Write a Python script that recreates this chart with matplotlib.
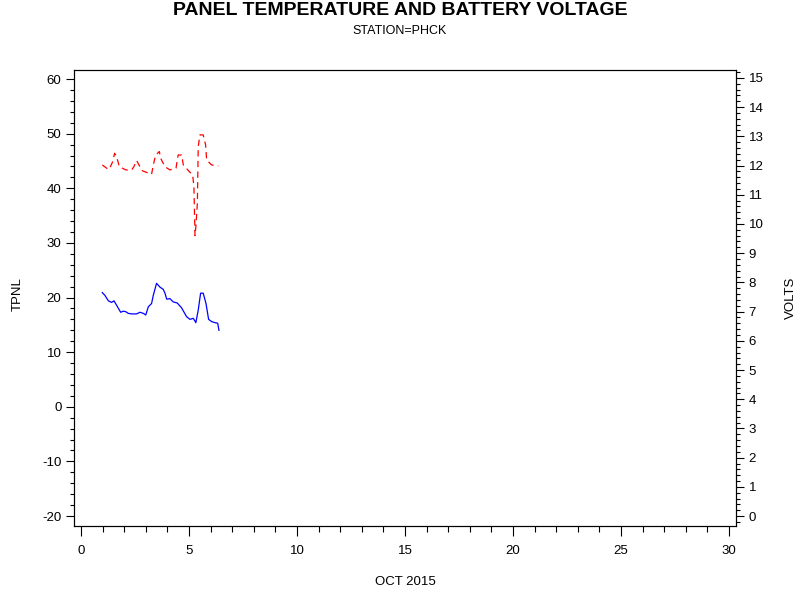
import matplotlib
matplotlib.use("Agg")
import matplotlib.pyplot as plt
from matplotlib.ticker import MultipleLocator

plt.rcParams['font.family'] = ['Liberation Sans', 'DejaVu Sans']
plt.rcParams['axes.unicode_minus'] = False

# panel temperature (left axis)
temp_day = [0.99, 1.11, 1.27, 1.42, 1.53, 1.65, 1.84, 1.96, 2.08, 2.19, 2.35, 2.58,
            2.73, 2.89, 3.0, 3.12, 3.27, 3.35, 3.5, 3.66, 3.81, 3.89, 3.97, 4.12,
            4.27, 4.46, 4.66, 4.89, 5.05, 5.2, 5.32, 5.43, 5.54, 5.66, 5.79, 5.91,
            6.05, 6.2, 6.33, 6.39]
tpnl = [20.9, 20.4, 19.4, 19.1, 19.4, 18.6, 17.3, 17.5, 17.4, 17.1, 17.0, 17.0,
        17.3, 17.1, 16.8, 18.3, 18.9, 20.4, 22.6, 21.9, 21.5, 20.8, 19.7, 19.8,
        19.2, 19.0, 18.1, 16.5, 16.0, 16.2, 15.4, 17.7, 20.8, 20.8, 18.9, 16.0,
        15.6, 15.4, 15.3, 14.0]

# battery voltage (right axis)
volt_day = [0.99, 1.19, 1.31, 1.47, 1.56, 1.65, 1.78, 2.08, 2.35, 2.45, 2.58, 2.73,
            2.85, 3.27, 3.35, 3.46, 3.63, 3.69, 3.89, 4.12, 4.4, 4.5, 4.66, 4.74,
            5.02, 5.17, 5.23, 5.28, 5.32, 5.39, 5.43, 5.51, 5.66, 5.77, 5.82, 6.05,
            6.36]
volts = [12.02, 11.91, 11.87, 12.13, 12.42, 12.31, 11.96, 11.85, 11.85, 11.96, 12.17, 11.96,
         11.82, 11.70, 12.02, 12.36, 12.48, 12.25, 11.96, 11.85, 11.91, 12.36, 12.36, 12.02,
         11.79, 11.68, 11.28, 9.6, 9.91, 10.71, 12.65, 13.05, 13.05, 12.71, 12.19, 12.02,
         11.99]

fig = plt.figure(figsize=(8, 6), dpi=100)
ax = fig.add_axes([0.0925, 0.1233, 0.8275, 0.76])
ax2 = ax.twinx()

ax.plot(temp_day, tpnl, color='blue', lw=0.9)
ax2.plot(volt_day, volts, color='red', lw=0.9, dashes=(5, 3.5))

ax.set_xlim(-0.32, 30.32)
ax.set_ylim(-21.83, 61.65)
ax2.set_ylim(-0.34, 15.27)

ax.xaxis.set_major_locator(MultipleLocator(5))
ax.xaxis.set_minor_locator(MultipleLocator(1))
ax.yaxis.set_major_locator(MultipleLocator(10))
ax.yaxis.set_minor_locator(MultipleLocator(2))
ax2.yaxis.set_major_locator(MultipleLocator(1))
ax2.yaxis.set_minor_locator(MultipleLocator(0.2))

for a in (ax, ax2):
    a.tick_params(which='major', length=6, width=0.8, labelsize=9.5, pad=3)
    a.tick_params(which='minor', length=3, width=0.8)
ax.tick_params(axis='x', which='major', length=7, pad=7)
ax.tick_params(axis='x', which='minor', length=4)

ax.set_xlabel('OCT 2015', fontsize=9.5, labelpad=13)
fig.text(0.0225, 0.51, 'TPNL', rotation=90, ha='center', va='center', fontsize=9.5)
fig.text(0.989, 0.503, 'VOLTS', rotation=90, ha='center', va='center', fontsize=9.5)

fig.text(0.5, 0.982, 'PANEL TEMPERATURE AND BATTERY VOLTAGE', ha='center', va='center',
         fontsize=14.0, fontweight='bold')
fig.text(0.5, 0.948, 'STATION=PHCK', ha='center', va='center', fontsize=9)

fig.savefig('out.png', dpi=100)
